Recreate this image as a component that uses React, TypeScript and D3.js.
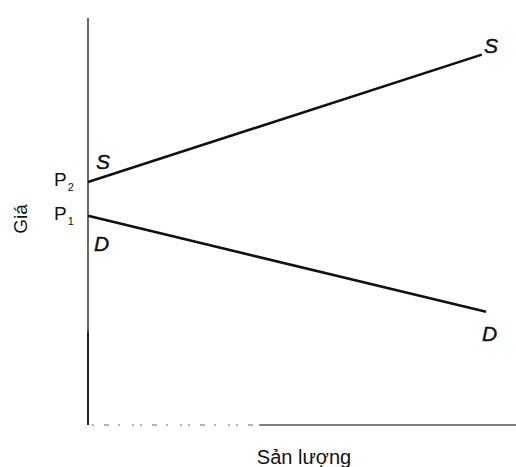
import React from "react";
import * as d3 from "d3";

// Quantity (x) and price (y) in abstract units
const supplyQ = [0, 92];
const supplyP = [59.7, 91];
const demandQ = [0, 93];
const demandP = [51.4, 27.8];
const priceLabels = ["P2", "P1"];
const priceLevels = [59.7, 51.4];

const W = 516;
const H = 467;

export default function App() {
  const x = d3.scaleLinear().domain([0, 100]).range([88, 516]);
  const y = d3.scaleLinear().domain([0, 100]).range([425, 18]);
  const line = d3
    .line<[number, number]>()
    .x((d) => x(d[0]))
    .y((d) => y(d[1]));
  const supply = supplyQ.map((q, i) => [q, supplyP[i]] as [number, number]);
  const demand = demandQ.map((q, i) => [q, demandP[i]] as [number, number]);
  const font = "'Liberation Sans', Arial, sans-serif";
  const x0 = x(0);
  const y0 = y(0);

  return (
    <svg
      width={W}
      height={H}
      style={{ position: "absolute", left: 0, top: 0, background: "#fff" }}
      fontFamily={font}
    >
      {/* vertical axis */}
      <line x1={x0} y1={y(100)} x2={x0} y2={y0} stroke="#6a6a6a" strokeWidth={2} />
      <line x1={x0} y1={y(23)} x2={x0} y2={y0} stroke="#222" strokeWidth={2} />
      {/* horizontal axis: faint broken part then solid */}
      <line
        x1={x0 + 4}
        y1={y0}
        x2={x(40)}
        y2={y0}
        stroke="#999"
        strokeWidth={1.5}
        strokeDasharray="2 10 5 9 2 12 2 6"
      />
      <line x1={x(40)} y1={y0} x2={W} y2={y0} stroke="#555" strokeWidth={1.5} />

      <path d={line(supply) ?? ""} fill="none" stroke="#111" strokeWidth={2.6} />
      <path d={line(demand) ?? ""} fill="none" stroke="#111" strokeWidth={2.6} />

      {priceLabels.map((lab, i) => (
        <text key={lab} x={54} y={y(priceLevels[i]) + 4} fontSize={19} fill="#111">
          {lab[0]}
          <tspan fontSize={11} dy={5} dx={1}>
            {lab[1]}
          </tspan>
        </text>
      ))}

      <g fontSize={21} fontStyle="italic" fill="#111" stroke="#111" strokeWidth={0.4}>
        <text x={96} y={169}>S</text>
        <text x={94} y={251}>D</text>
        <text x={484} y={53}>S</text>
        <text x={482} y={341}>D</text>
      </g>

      <text
        transform={`translate(27,219) rotate(-90)`}
        textAnchor="middle"
        fontSize={19}
        fill="#111"
      >
        Giá
      </text>
      <text x={304} y={464} textAnchor="middle" fontSize={20} fill="#111">
        Sản lượng
      </text>
    </svg>
  );
}
